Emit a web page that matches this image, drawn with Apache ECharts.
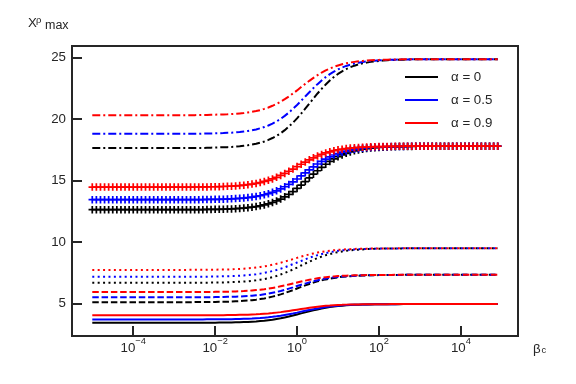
<!DOCTYPE html>
<html><head><meta charset="utf-8">
<script src="https://cdn.jsdelivr.net/npm/echarts@6/dist/echarts.min.js"></script>
<style>html,body{margin:0;padding:0;background:#fff}#c{width:576px;height:384px}</style>
</head><body><div id="c"></div>
<script>
// ---- data ----
const log10BetaC = [
-5.0,-4.9,-4.8,-4.7,-4.6,-4.5,-4.4,-4.3,-4.2,-4.1,
-4.0,-3.9,-3.8,-3.7,-3.6,-3.5,-3.4,-3.3,-3.2,-3.1,
-3.0,-2.9,-2.8,-2.7,-2.6,-2.5,-2.4,-2.3,-2.2,-2.1,
-2.0,-1.9,-1.8,-1.7,-1.6,-1.5,-1.4,-1.3,-1.2,-1.1,
-1.0,-0.9,-0.8,-0.7,-0.6,-0.5,-0.4,-0.3,-0.2,-0.1,
0.0,0.1,0.2,0.3,0.4,0.5,0.6,0.7,0.8,0.9,
1.0,1.1,1.2,1.3,1.4,1.5,1.6,1.7,1.8,1.9,
2.0,2.1,2.2,2.3,2.4,2.5,2.6,2.7,2.8,2.9,
3.0,3.1,3.2,3.3,3.4,3.5,3.6,3.7,3.8,3.9,
4.0,4.1,4.2,4.3,4.4,4.5,4.6,4.7,4.8,4.9];

const alphaLabels = ['α = 0', 'α = 0.5', 'α = 0.9'];
const xTickExponents = [-4, -2, 0, 2, 4];
const yTicks = [5, 10, 15, 20, 25];

const solid_a0 = [
3.42,3.42,3.42,3.42,3.42,3.42,3.42,3.42,3.42,3.42,
3.42,3.42,3.42,3.42,3.42,3.42,3.42,3.42,3.42,3.42,
3.42,3.42,3.42,3.42,3.42,3.42,
3.42,3.43,3.43,3.43,3.43,3.44,3.44,3.44,3.45,3.46,
3.47,3.48,3.49,3.51,3.53,3.56,3.59,3.63,3.67,3.73,
3.79,3.86,3.93,4.01,4.10,4.19,4.27,4.36,4.44,4.51,
4.58,4.64,4.70,4.74,4.78,4.81,4.84,4.86,4.88,4.89,
4.90,4.91,4.92,4.93,4.93,4.93,4.94,4.94,4.94,4.94,
4.95,
4.95,4.95,4.95,4.95,4.95,4.95,4.95,4.95,4.95,4.95,
4.95,4.95,4.95,4.95,4.95,4.95,4.95,4.95,4.95,4.95,
4.95,4.95,4.95];
const solid_a05 = [
3.70,3.70,3.70,3.70,3.70,3.70,3.70,3.70,3.70,3.70,
3.70,3.70,3.70,3.70,3.70,3.70,3.70,3.70,3.70,3.70,
3.70,3.70,3.70,3.70,3.70,3.70,
3.70,3.70,3.71,3.71,3.71,3.71,3.72,3.72,3.72,3.73,
3.74,3.75,3.76,3.77,3.79,3.81,3.84,3.87,3.91,3.95,
4.00,4.06,4.12,4.18,4.25,4.33,4.40,4.47,4.53,4.59,
4.65,4.70,4.74,4.78,4.81,4.84,4.86,4.88,4.89,4.90,
4.91,4.92,4.93,4.93,4.93,4.94,4.94,4.94,4.94,4.95,
4.95,
4.95,4.95,4.95,4.95,4.95,4.95,4.95,4.95,4.95,4.95,
4.95,4.95,4.95,4.95,4.95,4.95,4.95,4.95,4.95,4.95,
4.95,4.95,4.95];
const solid_a09 = [
4.03,4.03,4.03,4.03,4.03,4.03,4.03,4.03,4.03,4.03,
4.03,4.03,4.03,4.03,4.03,4.03,4.03,4.03,4.03,4.03,
4.03,4.03,4.03,4.03,4.03,
4.03,4.03,4.03,4.04,4.04,4.04,4.04,4.04,4.05,4.05,
4.06,4.07,4.07,4.08,4.10,4.11,4.13,4.16,4.18,4.21,
4.25,4.29,4.34,4.39,4.44,4.49,4.54,4.59,4.64,4.69,
4.73,4.77,4.80,4.82,4.85,4.87,4.88,4.90,4.91,4.91,
4.92,4.93,4.93,4.94,4.94,4.94,4.94,4.94,4.95,4.95,
4.95,
4.95,4.95,4.95,4.95,4.95,4.95,4.95,4.95,4.95,4.95,
4.95,4.95,4.95,4.95,4.95,4.95,4.95,4.95,4.95,4.95,
4.95,4.95,4.95,4.95];

const dashed_a0 = [
5.10,5.10,5.10,5.10,5.10,5.10,5.10,5.10,5.10,5.10,
5.10,5.10,5.10,5.10,5.10,5.10,5.10,5.10,5.10,5.10,
5.10,5.10,5.10,5.10,5.10,
5.11,5.11,5.11,5.11,5.12,5.12,5.13,5.13,5.14,5.15,
5.17,5.19,5.21,5.23,5.26,5.30,5.35,5.40,5.47,5.55,
5.63,5.73,5.84,5.96,6.08,6.21,6.34,6.46,6.58,6.69,
6.79,6.87,6.95,7.02,7.07,7.12,7.16,7.19,7.21,7.24,
7.25,7.27,7.28,7.29,7.29,7.30,7.30,7.31,7.31,7.31,
7.31,
7.32,7.32,7.32,7.32,7.32,7.32,7.32,7.32,7.32,7.32,
7.32,7.32,7.32,7.32,7.32,7.32,7.32,7.32,7.32,7.32,
7.32,7.32,7.32,7.32];
const dashed_a05 = [
5.49,5.49,5.49,5.49,5.49,5.49,5.49,5.49,5.49,5.49,
5.49,5.49,5.49,5.49,5.49,5.49,5.49,5.49,5.49,5.49,
5.49,5.49,5.49,5.49,5.49,
5.50,5.50,5.50,5.50,5.50,5.51,5.51,5.52,5.53,5.53,
5.55,5.56,5.58,5.60,5.62,5.66,5.69,5.74,5.79,5.86,
5.93,6.01,6.10,6.20,6.30,6.41,6.51,6.61,6.71,6.80,
6.88,6.95,7.02,7.07,7.12,7.15,7.19,7.21,7.23,7.25,
7.26,7.28,7.28,7.29,7.30,7.30,7.31,7.31,7.31,7.31,
7.31,
7.32,7.32,7.32,7.32,7.32,7.32,7.32,7.32,7.32,7.32,
7.32,7.32,7.32,7.32,7.32,7.32,7.32,7.32,7.32,7.32,
7.32,7.32,7.32,7.32];
const dashed_a09 = [
5.92,5.92,5.92,5.92,5.92,5.92,5.92,5.92,5.92,5.92,
5.92,5.92,5.92,5.92,5.92,5.92,5.92,5.92,5.92,5.92,
5.92,5.92,5.92,5.92,
5.92,5.93,5.93,5.93,5.93,5.93,5.94,5.94,5.95,5.95,
5.96,5.97,5.99,6.00,6.02,6.05,6.08,6.11,6.15,6.20,
6.26,6.32,6.39,6.46,6.54,6.62,6.70,6.78,6.85,6.92,
6.98,7.04,7.09,7.13,7.16,7.19,7.22,7.24,7.25,7.27,
7.28,7.29,7.29,7.30,7.30,7.31,7.31,7.31,7.31,7.31,
7.32,
7.32,7.32,7.32,7.32,7.32,7.32,7.32,7.32,7.32,7.32,
7.32,7.32,7.32,7.32,7.32,7.32,7.32,7.32,7.32,7.32,
7.32,7.32,7.32,7.32,7.32];

const dotted_a0 = [
6.67,6.67,6.67,6.67,6.67,6.67,6.67,6.67,6.67,6.67,
6.67,6.67,6.67,6.67,6.67,6.67,6.67,6.67,6.67,6.67,
6.67,6.67,6.67,6.67,6.67,6.67,
6.68,6.68,6.68,6.69,6.69,6.70,6.70,6.71,6.73,6.74,
6.76,6.78,6.80,6.84,6.88,6.93,6.98,7.05,7.14,7.23,
7.35,7.47,7.61,7.76,7.91,8.08,8.24,8.39,8.54,8.68,
8.80,8.92,9.01,9.10,9.17,9.22,9.27,9.31,9.35,9.37,
9.39,9.41,9.42,9.44,9.45,9.45,9.46,9.46,9.47,9.47,
9.47,
9.48,9.48,9.48,9.48,9.48,9.48,9.48,9.48,9.48,9.48,
9.48,9.48,9.48,9.48,9.48,9.48,9.48,9.48,9.48,9.48,
9.48,9.48,9.48];
const dotted_a05 = [
7.16,7.16,7.16,7.16,7.16,7.16,7.16,7.16,7.16,7.16,
7.16,7.16,7.16,7.16,7.16,7.16,7.16,7.16,7.16,7.16,
7.16,7.16,7.16,7.16,7.16,
7.17,7.17,7.17,7.17,7.18,7.18,7.19,7.20,7.21,7.22,
7.23,7.25,7.27,7.30,7.33,7.37,7.42,7.48,7.55,7.63,
7.72,7.82,7.93,8.06,8.19,8.32,8.45,8.58,8.71,8.82,
8.92,9.01,9.09,9.16,9.22,9.27,9.31,9.34,9.37,9.39,
9.41,9.42,9.43,9.44,9.45,9.46,9.46,9.47,9.47,9.47,
9.47,
9.48,9.48,9.48,9.48,9.48,9.48,9.48,9.48,9.48,9.48,
9.48,9.48,9.48,9.48,9.48,9.48,9.48,9.48,9.48,9.48,
9.48,9.48,9.48,9.48];
const dotted_a09 = [
7.72,7.72,7.72,7.72,7.72,7.72,7.72,7.72,7.72,7.72,
7.72,7.72,7.72,7.72,7.72,7.72,7.72,7.72,7.72,7.72,
7.72,7.72,7.72,7.72,
7.73,7.73,7.73,7.73,7.73,7.74,7.74,7.75,7.75,7.76,
7.77,7.79,7.80,7.82,7.85,7.88,7.92,7.96,8.01,8.07,
8.14,8.22,8.31,8.40,8.50,8.60,8.70,8.80,8.89,8.98,
9.06,9.13,9.19,9.24,9.28,9.32,9.35,9.38,9.40,9.41,
9.43,9.44,9.45,9.45,9.46,9.46,9.47,9.47,9.47,9.47,
9.47,
9.48,9.48,9.48,9.48,9.48,9.48,9.48,9.48,9.48,9.48,
9.48,9.48,9.48,9.48,9.48,9.48,9.48,9.48,9.48,9.48,
9.48,9.48,9.48,9.48,9.48];

const plus_a0 = [
12.62,12.62,12.62,12.62,12.62,12.62,12.62,12.62,12.62,12.62,
12.62,12.62,12.62,12.62,12.62,12.62,12.62,12.62,12.62,12.62,
12.62,12.62,12.62,12.62,12.62,12.62,12.62,12.62,
12.64,12.64,12.65,12.65,12.66,12.67,12.68,12.70,12.72,12.75,
12.78,12.82,12.87,12.93,13.00,13.09,13.20,13.33,13.48,13.66,
13.86,14.09,14.34,14.62,14.90,15.20,15.50,15.78,16.06,16.31,
16.54,16.74,16.92,17.07,17.20,17.31,17.40,17.47,17.53,17.58,
17.62,17.65,17.68,17.70,17.72,17.73,17.74,17.75,17.75,17.76,
17.76,
17.78,17.78,17.78,17.78,17.78,17.78,17.78,17.78,17.78,17.78,
17.78,17.78,17.78,17.78,17.78,17.78,17.78,17.78,17.78,17.78,
17.78];
const plus_a05 = [
13.43,13.43,13.43,13.43,13.43,13.43,13.43,13.43,13.43,13.43,
13.43,13.43,13.43,13.43,13.43,13.43,13.43,13.43,13.43,13.43,
13.43,13.43,13.43,13.43,13.43,13.43,13.43,
13.44,13.45,13.45,13.46,13.46,13.47,13.48,13.50,13.52,13.54,
13.56,13.60,13.64,13.69,13.75,13.83,13.92,14.03,14.15,14.30,
14.48,14.67,14.88,15.11,15.36,15.61,15.85,16.10,16.33,16.54,
16.73,16.91,17.06,17.18,17.29,17.38,17.46,17.52,17.57,17.61,
17.65,17.67,17.69,17.71,17.73,17.74,17.75,17.75,17.76,17.76,
17.77,
17.78,17.78,17.78,17.78,17.78,17.78,17.78,17.78,17.78,17.78,
17.78,17.78,17.78,17.78,17.78,17.78,17.78,17.78,17.78,17.78,
17.78,17.78];
const plus_a09 = [
14.45,14.45,14.45,14.45,14.45,14.45,14.45,14.45,14.45,14.45,
14.45,14.45,14.45,14.45,14.45,14.45,14.45,14.45,14.45,14.45,
14.45,14.45,14.45,14.45,14.45,
14.46,14.46,14.47,14.47,14.48,14.48,14.49,14.50,14.52,14.53,
14.55,14.58,14.61,14.65,14.70,14.75,14.82,14.91,15.00,15.12,
15.25,15.40,15.56,15.74,15.92,16.12,16.31,16.49,16.67,16.83,
16.98,17.11,17.23,17.32,17.41,17.48,17.53,17.58,17.62,17.65,
17.68,17.70,17.71,17.73,17.74,17.75,17.75,17.76,17.76,17.77,
17.77,
17.78,17.78,17.78,17.78,17.78,17.78,17.78,17.78,17.78,17.78,
17.78,17.78,17.78,17.78,17.78,17.78,17.78,17.78,17.78,17.78,
17.78,17.78,17.78,17.78];

const dashdot_a0 = [
17.63,17.63,17.63,17.63,17.63,17.63,17.63,17.63,17.63,17.63,
17.63,17.63,17.63,17.63,17.63,17.63,17.63,17.63,17.63,17.63,
17.63,17.63,17.63,17.63,17.63,17.63,17.63,17.63,
17.65,17.66,17.67,17.68,17.69,17.70,17.72,17.74,17.77,17.81,
17.85,17.91,17.97,18.06,18.16,18.29,18.44,18.62,18.83,19.08,
19.37,19.69,20.04,20.42,20.83,21.24,21.65,22.06,22.44,22.79,
23.12,23.40,23.65,23.86,24.04,24.19,24.32,24.42,24.51,24.57,
24.63,24.67,24.71,24.74,24.76,24.78,24.79,24.80,24.81,24.82,
24.83,
24.85,24.85,24.85,24.85,24.85,24.85,24.85,24.85,24.85,24.85,
24.85,24.85,24.85,24.85,24.85,24.85,24.85,24.85,24.85,24.85,
24.85];
const dashdot_a05 = [
18.78,18.78,18.78,18.78,18.78,18.78,18.78,18.78,18.78,18.78,
18.78,18.78,18.78,18.78,18.78,18.78,18.78,18.78,18.78,18.78,
18.78,18.78,18.78,18.78,18.78,18.78,18.78,
18.80,18.80,18.81,18.82,18.83,18.84,18.86,18.87,18.90,18.93,
18.97,19.01,19.07,19.14,19.23,19.33,19.46,19.61,19.79,20.00,
20.24,20.51,20.81,21.13,21.47,21.82,22.16,22.50,22.82,23.12,
23.39,23.63,23.84,24.02,24.17,24.30,24.40,24.49,24.56,24.62,
24.66,24.70,24.73,24.76,24.77,24.79,24.80,24.81,24.82,24.83,
24.83,
24.85,24.85,24.85,24.85,24.85,24.85,24.85,24.85,24.85,24.85,
24.85,24.85,24.85,24.85,24.85,24.85,24.85,24.85,24.85,24.85,
24.85,24.85];
const dashdot_a09 = [
20.30,20.30,20.30,20.30,20.30,20.30,20.30,20.30,20.30,20.30,
20.30,20.30,20.30,20.30,20.30,20.30,20.30,20.30,20.30,20.30,
20.30,20.30,20.30,20.30,20.30,20.30,
20.31,20.32,20.32,20.33,20.34,20.35,20.36,20.37,20.39,20.41,
20.44,20.47,20.52,20.57,20.63,20.71,20.81,20.92,21.06,21.21,
21.39,21.60,21.82,22.06,22.31,22.58,22.84,23.09,23.33,23.55,
23.76,23.94,24.09,24.23,24.34,24.44,24.52,24.58,24.63,24.68,
24.71,24.74,24.76,24.78,24.79,24.81,24.81,24.82,24.83,24.83,
24.84,
24.85,24.85,24.85,24.85,24.85,24.85,24.85,24.85,24.85,24.85,
24.85,24.85,24.85,24.85,24.85,24.85,24.85,24.85,24.85,24.85,
24.85,24.85,24.85];

// ---- chart ----
const FONT = '"Liberation Sans", Arial, sans-serif';
const TXT = '#262626';
const colors = ['#000000', '#0000ff', '#ff0000'];
const PLUS = 'path://M-0.8,-3.5L0.8,-3.5L0.8,-0.8L3.5,-0.8L3.5,0.8L0.8,0.8L0.8,3.5L-0.8,3.5L-0.8,0.8L-3.5,0.8L-3.5,-0.8L-0.8,-0.8Z';

const groups = [
  {arrs: [solid_a0, solid_a05, solid_a09], dash: 'solid'},
  {arrs: [dashed_a0, dashed_a05, dashed_a09], dash: [6.5, 2.8]},
  {arrs: [dotted_a0, dotted_a05, dotted_a09], dash: [2, 3.4]},
  {arrs: [plus_a0, plus_a05, plus_a09], marker: true},
  {arrs: [dashdot_a0, dashdot_a05, dashdot_a09], dash: [8, 3, 2, 3]}
];
groups.forEach((g, gi) => g.arrs.forEach((a, k) => {
  if (a.length !== log10BetaC.length) throw new Error('length mismatch group ' + gi + ' alpha ' + k + ': ' + a.length);
}));

const series = [];
for (let k = 0; k < 3; k++) {
  groups.forEach(g => {
    const data = log10BetaC.map((e, i) => [e, g.arrs[k][i]]);
    if (g.marker) {
      series.push({
        type: 'scatter', name: alphaLabels[k], data,
        symbol: PLUS, symbolSize: 7.5,
        itemStyle: {color: colors[k], opacity: 1}, silent: true
      });
    } else {
      series.push({
        type: 'line', name: alphaLabels[k], data,
        showSymbol: false, symbol: 'none', smooth: false,
        itemStyle: {color: colors[k]},
        lineStyle: {color: colors[k], width: 2, type: g.dash, cap: 'butt'},
        silent: true
      });
    }
  });
}

const fmtExp = v => {
  const n = Math.round(v);
  return '{b|10}{s|' + (n < 0 ? '\u2212' + (-n) : String(n)) + '}';
};

const chart = echarts.init(document.getElementById('c'), null, {renderer: 'canvas'});
chart.setOption({
  animation: false,
  backgroundColor: '#ffffff',
  grid: {left: 72, right: 58, top: 46, bottom: 48, show: true, borderColor: TXT, borderWidth: 2,
         backgroundColor: 'transparent', containLabel: false, outerBoundsMode: 'none'},
  xAxis: {
    type: 'value', min: -5.495, max: 5.395, position: 'bottom',
    axisLine: {show: false, onZero: false}, splitLine: {show: false},
    axisTick: {show: true, inside: true, length: 10, customValues: xTickExponents,
               lineStyle: {color: TXT, width: 2}},
    axisLabel: {
      customValues: xTickExponents, margin: 1, formatter: fmtExp,
      rich: {
        b: {fontSize: 13.3, lineHeight: 18, verticalAlign: 'bottom', fontFamily: FONT, color: TXT},
        s: {fontSize: 9.3, lineHeight: 10, verticalAlign: 'top', fontFamily: FONT, color: TXT}
      }
    }
  },
  yAxis: {
    type: 'value', min: 2.35, max: 25.92, position: 'left',
    axisLine: {show: false, onZero: false}, splitLine: {show: false},
    axisTick: {show: true, inside: true, length: 10, customValues: yTicks,
               lineStyle: {color: TXT, width: 2}},
    axisLabel: {customValues: yTicks, margin: 6, fontSize: 13.3, fontFamily: FONT, color: TXT}
  },
  legend: {
    data: alphaLabels, orient: 'vertical', left: 405, top: 70, padding: 0,
    itemWidth: 33, itemHeight: 2, itemGap: 9, icon: 'rect', selectedMode: false,
    textStyle: {fontSize: 13.3, fontFamily: FONT, color: TXT, lineHeight: 14, padding: [0, 0, 0, 8]}
  },
  graphic: [
    {type: 'text', x: 28, y: 23.5, silent: true,
     style: {text: 'X', fontSize: 13.3, fontFamily: FONT, fill: TXT, align: 'left', verticalAlign: 'middle'}},
    {type: 'text', x: 36, y: 20.5, silent: true,
     style: {text: 'ρ', fontSize: 9.5, fontFamily: FONT, fill: TXT, align: 'left', verticalAlign: 'middle'}},
    {type: 'text', x: 45, y: 25.5, silent: true,
     style: {text: 'max', fontSize: 12.5, fontFamily: FONT, fill: TXT, align: 'left', verticalAlign: 'middle'}},
    {type: 'text', x: 533, y: 349, silent: true,
     style: {text: 'β', fontSize: 13.3, fontFamily: FONT, fill: TXT, align: 'left', verticalAlign: 'middle'}},
    {type: 'text', x: 541.5, y: 350.5, silent: true,
     style: {text: 'c', fontSize: 9.3, fontFamily: FONT, fill: TXT, align: 'left', verticalAlign: 'middle'}}
  ],
  series
});
</script>
</body></html>
